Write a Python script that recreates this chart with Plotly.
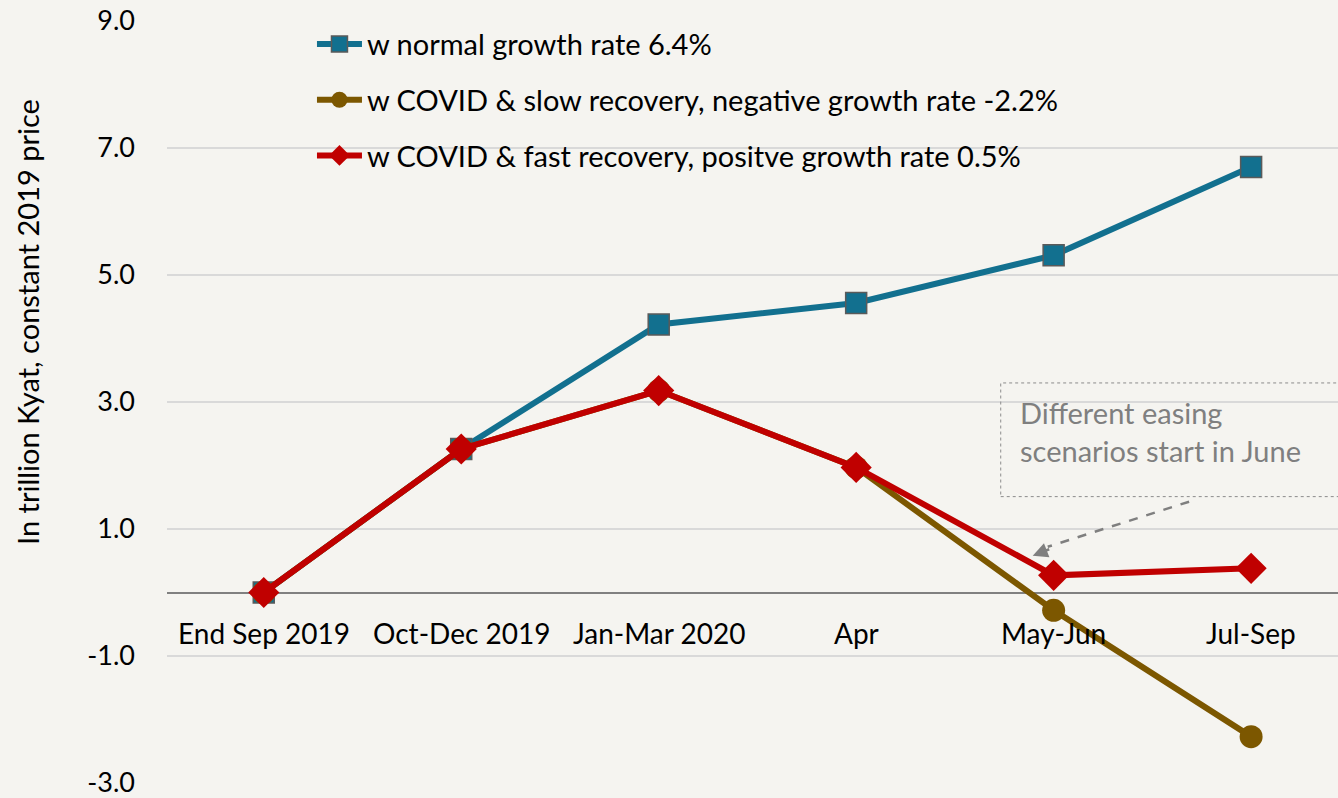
import plotly.graph_objects as go

categories = ["End Sep 2019", "Oct-Dec 2019", "Jan-Mar 2020", "Apr", "May-Jun", "Jul-Sep"]
normal = [0.0, 2.26, 4.22, 4.56, 5.31, 6.70]
slow = [0.0, 2.26, 3.18, 1.97, -0.28, -2.27]
fast = [0.0, 2.26, 3.18, 1.97, 0.27, 0.38]
names = ["w normal growth rate 6.4%",
         "w COVID & slow recovery, negative growth rate -2.2%",
         "w COVID & fast recovery, positve growth rate 0.5%"]
ytick_vals = [-3, -1, 1, 3, 5, 7, 9]
ytick_text = ["-3.0", "-1.0", "1.0", "3.0", "5.0", "7.0", "9.0"]
y_title = "In trillion Kyat, constant 2019 price"
note = "Different easing<br>scenarios start in June"

BG = "#f5f4f0"
FONT = "Lato"
xs = list(range(len(categories)))

fig = go.Figure()
fig.add_trace(go.Scatter(x=xs, y=normal, name=names[0], mode="lines+markers",
                         line=dict(color="#12708f", width=6),
                         marker=dict(symbol="square", size=21, color="#12708f",
                                     line=dict(color="#5a5a5a", width=1.5)),
                         legendgroup="a"))
fig.add_trace(go.Scatter(x=xs, y=slow, name=names[1], mode="lines+markers",
                         line=dict(color="#7c5700", width=6),
                         marker=dict(symbol="circle", size=23, color="#7c5700"),
                         legendgroup="b"))
fig.add_trace(go.Scatter(x=xs, y=fast, name=names[2], mode="lines+markers",
                         line=dict(color="#c00000", width=6),
                         marker=dict(symbol="diamond", size=24, color="#c00000"),
                         legendgroup="c"))

annotations = []
for i, c in enumerate(categories):
    annotations.append(dict(x=i, y=0, xref="x", yref="y", text=c, showarrow=False,
                            yanchor="top", yshift=-21,
                            font=dict(family=FONT, size=28, color="#000000")))
annotations.append(dict(x=3.82, y=3.3, xref="x", yref="y", text=note, showarrow=False,
                        xanchor="left", yanchor="top", align="left", yshift=-10,
                        font=dict(family=FONT, size=29, color="#7f7f7f")))
# arrowhead
annotations.append(dict(x=3.894, y=0.58, xref="x", yref="y", text="", showarrow=True,
                        arrowhead=2, arrowsize=1.2, arrowwidth=2.5, arrowcolor="#7f7f7f",
                        ax=18, ay=-7))
# y-axis title (placed off-centre as in the reference)
annotations.append(dict(x=-0.1187, y=0.605, xref="paper", yref="paper", text=y_title,
                        showarrow=False, textangle=-90, xanchor="center", yanchor="middle",
                        font=dict(family=FONT, size=29, color="#000000")))

shapes = [
    dict(type="rect", xref="x", yref="y", x0=3.732, x1=5.6, y0=1.51, y1=3.30,
         line=dict(color="#8c8c8c", width=1, dash="dot"), fillcolor="rgba(0,0,0,0)"),
    dict(type="line", xref="x", yref="y", x0=4.686, y0=1.43, x1=3.97, y1=0.72,
         line=dict(color="#7f7f7f", width=2.5, dash="dash")),
]

fig.update_layout(
    width=1338, height=798,
    paper_bgcolor=BG, plot_bgcolor=BG,
    margin=dict(l=167, r=0, t=21, b=13),
    font=dict(family=FONT, color="#000000"),
    showlegend=True,
    legend=dict(x=0.1238, y=1.003, xanchor="left", yanchor="top",
                bgcolor="rgba(0,0,0,0)", font=dict(family=FONT, size=29, color="#000000"),
                tracegroupgap=15, itemwidth=45),
    annotations=annotations,
    shapes=shapes,
)
fig.update_xaxes(range=[-0.49, 5.44], showticklabels=False, showgrid=False,
                 zeroline=False, showline=False)
fig.update_yaxes(range=[-3, 9], tickvals=ytick_vals, ticktext=ytick_text,
                 showgrid=True, gridcolor="#d9d9d9", gridwidth=1.5,
                 zeroline=True, zerolinecolor="#808080", zerolinewidth=2,
                 showline=False, ticks="", ticklabelstandoff=31,
                 ticklabeloverflow="allow",
                 tickfont=dict(family=FONT, size=27, color="#000000"))

fig.write_html("out.html",
               config={"displayModeBar": False},
               post_script="document.body.style.margin='0';"
                           "document.body.style.background='%s';"
                           "document.body.style.overflow='hidden';" % BG)
